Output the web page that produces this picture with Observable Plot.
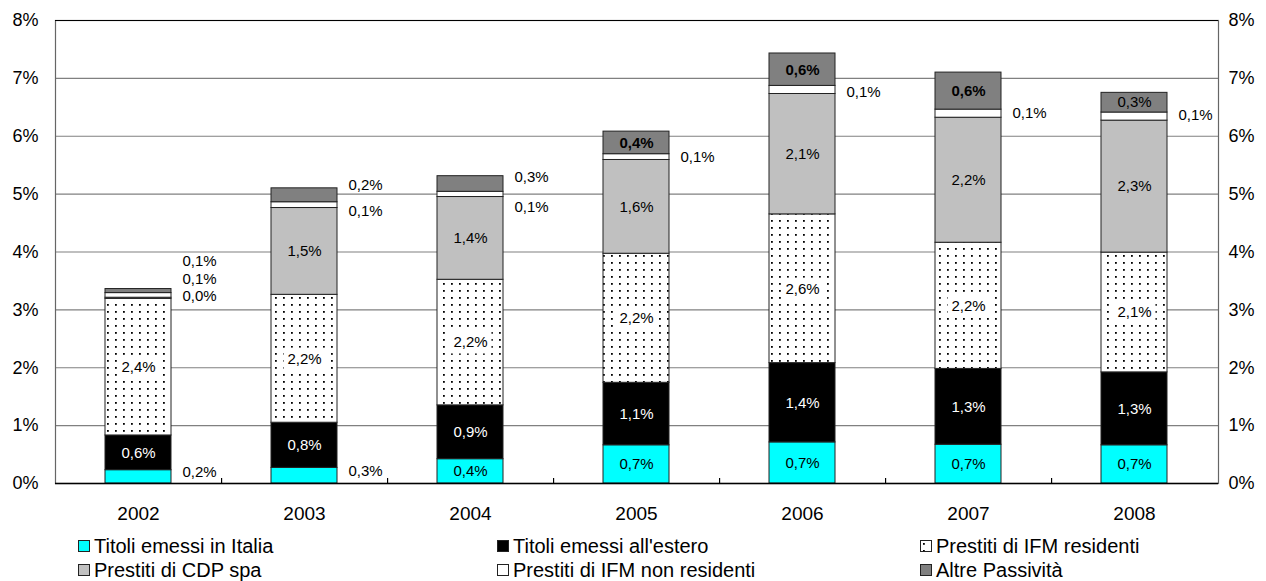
<!DOCTYPE html>
<html><head><meta charset="utf-8">
<script src="https://cdn.jsdelivr.net/npm/d3@7"></script>
<script src="https://cdn.jsdelivr.net/npm/@observablehq/plot@0.6"></script>
<style>
body{margin:0;background:#fff;font-family:"Liberation Sans",Arial,sans-serif;}
#legend{display:grid;grid-template-columns:419px 423px 340px;padding-left:78px;font-size:20px;line-height:24px;color:#000;margin-top:2px}
.item{display:flex;align-items:center;white-space:nowrap}
.item svg{margin-right:4px;flex:none}
</style></head><body>
<div id="chart"></div><div id="legend"></div>
<script>
// ---- data ----
const years = ["2002","2003","2004","2005","2006","2007","2008"];
const seriesNames = ["Titoli emessi in Italia","Titoli emessi all'estero","Prestiti di IFM residenti","Prestiti di CDP spa","Prestiti di IFM non residenti","Altre Passività"];
const titoliItalia      = [0.23, 0.27, 0.42, 0.66, 0.71, 0.67, 0.66];
const titoliEstero      = [0.60, 0.78, 0.93, 1.08, 1.37, 1.31, 1.26];
const prestitiIFMres    = [2.36, 2.21, 2.17, 2.23, 2.57, 2.18, 2.07];
const prestitiCDP       = [0.02, 1.50, 1.43, 1.62, 2.08, 2.16, 2.28];
const prestitiIFMnonres = [0.08, 0.10, 0.09, 0.10, 0.14, 0.14, 0.14];
const altrePassivita    = [0.07, 0.24, 0.27, 0.39, 0.56, 0.64, 0.34];
const yTicks = [0,1,2,3,4,5,6,7,8];

// ---- styles ----
const colors = ["#00FFFF","#000000","url(#dots)","#C0C0C0","#FFFFFF","#808080"];
const boldAltreYears = ["2005","2006","2007"];
// vertical nudges (percentage points) for labels placed beside the bars
const labelShift = {
  "Altre Passività|2002": 0.515, "Prestiti di IFM non residenti|2002": 0.275, "Prestiti di CDP spa|2002": 0.035, "Titoli emessi in Italia|2002": 0.085,
  "Altre Passività|2003": 0.17, "Prestiti di IFM non residenti|2003": -0.10, "Titoli emessi in Italia|2003": 0.07,
  "Altre Passività|2004": 0.12, "Prestiti di IFM non residenti|2004": -0.22,
  "Prestiti di IFM non residenti|2006": -0.035, "Prestiti di IFM non residenti|2008": 0.02
};

const seriesValues = [titoliItalia, titoliEstero, prestitiIFMres, prestitiCDP, prestitiIFMnonres, altrePassivita];
const data = seriesNames.flatMap((s, i) => years.map((y, j) => ({year: y, series: s, value: seriesValues[i][j]})));

// stacked midpoints for labels
const cum = years.map(() => 0);
const labels = [];
seriesNames.forEach((s, i) => years.forEach((y, j) => {
  const v = seriesValues[i][j];
  const y0 = cum[j]; cum[j] += v;
  labels.push({year: y, series: s, si: i, value: v, mid: y0 + v / 2});
}));
const fmt = v => d3.format(".1f")(v).replace(".", ",") + "%";
const isInside = d => d.value >= 0.3 && d.si !== 4;
const inside = labels.filter(isInside);
const outside = labels.filter(d => !isInside(d));
const insideBlack = inside.filter(d => d.si !== 1 && d.si !== 2 && !(d.si === 5 && boldAltreYears.includes(d.year)));
const insideWhite = inside.filter(d => d.si === 1);
const insideDots = inside.filter(d => d.si === 2);
const insideBold = inside.filter(d => d.si === 5 && boldAltreYears.includes(d.year));

const W = 1266, H = 532, ML = 55, MR = 48, MT = 20, MB = 49;
const step = (W - ML - MR) / years.length;
const boxSymbol = {draw(ctx) { ctx.rect(-21, -11, 42, 22); }};

const chart = Plot.plot({
  width: W, height: H,
  marginLeft: ML, marginRight: MR, marginTop: MT, marginBottom: MB,
  style: {fontFamily: "'Liberation Sans', Arial, sans-serif", fontSize: "15px", background: "#fff"},
  x: {domain: years, paddingInner: 0.6, paddingOuter: 0.3, label: null},
  y: {domain: [0, 8], label: null},
  color: {domain: seriesNames, range: colors},
  marks: [
    Plot.ruleY(yTicks.slice(1, -1), {stroke: "#808080", strokeWidth: 1.2}),
    Plot.frame({stroke: "#666", strokeWidth: 1.2}),
    Plot.ruleY([8], {stroke: "#000", strokeWidth: 1.2}),
    Plot.barY(data, {x: "year", y: "value", fill: "series", stroke: "#222", strokeWidth: 1}),
    Plot.ruleY([0], {stroke: "#000", strokeWidth: 1.5}),
    Plot.ruleX(years.slice(0, -1), {x: d => d, dx: step / 2, insetTop: H - MT - MB - 5, stroke: "#000", strokeWidth: 1.2}),
    Plot.dot(insideDots, {x: "year", y: "mid", symbol: boxSymbol, fill: "#fff", stroke: null}),
    Plot.text(insideDots, {x: "year", y: "mid", text: d => fmt(d.value), fill: "#000", fontSize: 15}),
    Plot.text(insideBlack, {x: "year", y: "mid", text: d => fmt(d.value), fill: "#000", fontSize: 15}),
    Plot.text(insideWhite, {x: "year", y: "mid", text: d => fmt(d.value), fill: "#fff", fontSize: 15}),
    Plot.text(insideBold, {x: "year", y: "mid", text: d => fmt(d.value), fill: "#000", fontSize: 15, fontWeight: "bold"}),
    Plot.text(outside, {x: "year", y: d => d.mid + (labelShift[d.series + "|" + d.year] || 0), text: d => fmt(d.value), fill: "#000", fontSize: 15, textAnchor: "start", dx: 44}),
    Plot.axisY({anchor: "left", ticks: yTicks, tickSize: 0, tickPadding: 17, tickFormat: d => d + "%", fontSize: 18, label: null}),
    Plot.axisY({anchor: "right", ticks: yTicks, tickSize: 0, tickPadding: 10, tickFormat: d => d + "%", fontSize: 18, label: null}),
    Plot.axisX({tickSize: 0, tickPadding: 23, fontSize: 19, label: null})
  ]
});

// dotted pattern
const ns = "http://www.w3.org/2000/svg";
const defs = document.createElementNS(ns, "defs");
defs.innerHTML = '<pattern id="dots" patternUnits="userSpaceOnUse" width="8" height="7"><rect width="8" height="7" fill="#fff"/><rect x="3" y="3" width="1.8" height="1.8" fill="#000"/></pattern>';
chart.insertBefore(defs, chart.firstChild);
document.getElementById("chart").appendChild(chart);

// legend
const legend = document.getElementById("legend");
seriesNames.forEach((s, i) => {
  const item = document.createElement("div");
  item.className = "item";
  item.innerHTML = `<svg width="12" height="12"><rect x="0.5" y="0.5" width="11" height="11" fill="${colors[i]}" stroke="#222" stroke-width="1"/></svg><span>${s}</span>`;
  legend.appendChild(item);
});
</script>
</body></html>
